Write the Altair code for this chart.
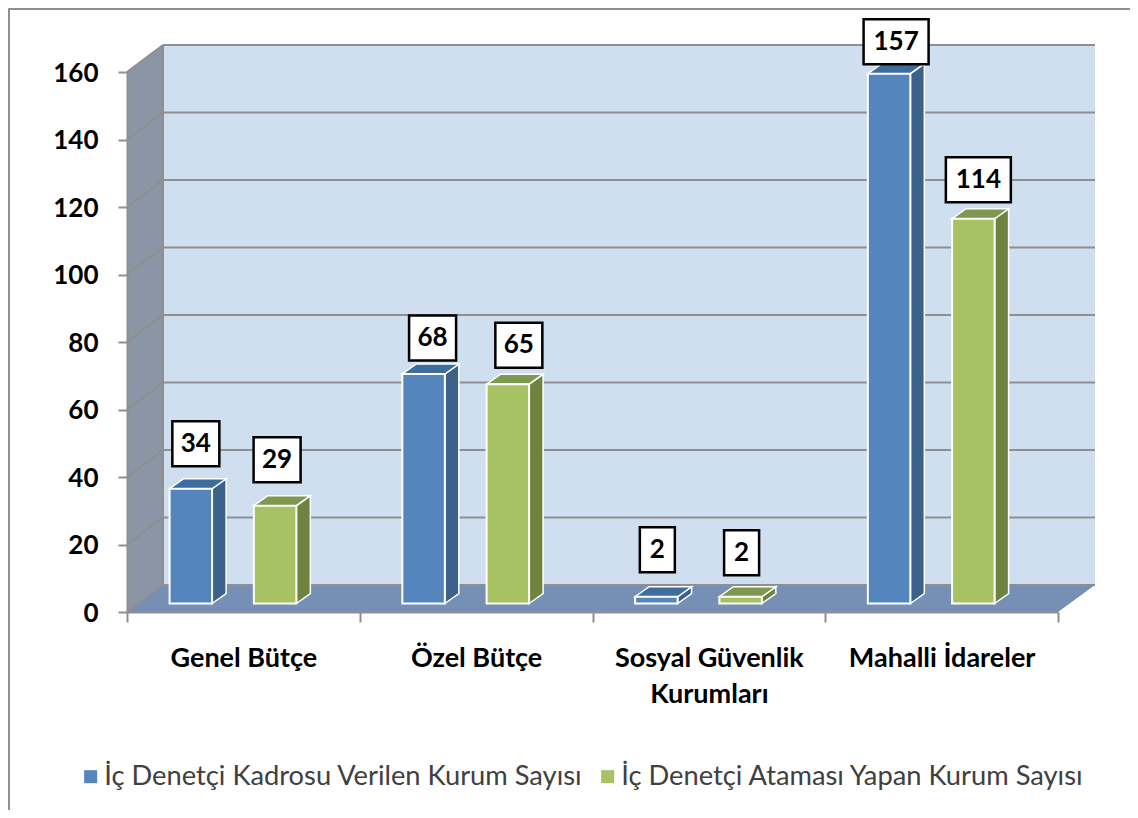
import altair as alt
import pandas as pd

CATEGORIES = ["Genel Bütçe", "Özel Bütçe", "Sosyal Güvenlik|Kurumları", "Mahalli İdareler"]
SERIES = ["İç Denetçi Kadrosu Verilen Kurum Sayısı", "İç Denetçi Ataması Yapan Kurum Sayısı"]
KADRO = [34, 68, 2, 157]
ATAMA = [29, 65, 2, 114]
Y_TICKS = [0, 20, 40, 60, 80, 100, 120, 140, 160]

# label box centres relative to the bar top (pixels)
LABEL_DX = [[5, 9, 1, 7], [2, 11, 1, 5]]
LABEL_DY = [[45, 36, 47, 32], [46, 39, 44, 39]]

FRONT = ["#5585bd", "#a6c263"]
SIDE = ["#3c618a", "#6f8340"]
TOP = ["#3e6c9c", "#7f9850"]
WALL_BACK, WALL_LEFT, FLOOR = "#cfdff0", "#8a96a6", "#7590b4"
GRID = "#8f8f8f"

PW, PH = 931, 540
UX, UY = PW / 4, PH / 160
WALL_DX, WALL_DY = 36 / UX, 27 / UY
BAR_DX, BAR_DY = 14 / UX, 10 / UY
BASE = 8.5 / UY
BAR_W = 42.5 / UX
BAR_X = [0.183, 0.545]
END = 4 + 37 / UX

xs = alt.Scale(domain=[0, 4], nice=False, zero=False)
ys = alt.Scale(domain=[0, 160], nice=False, zero=False)

# axes
x_vals = [i / 2 for i in range(9)]
label_expr = "".join(
    "datum.value==%s?%s:" % (i + 0.5, "[" + ",".join("'%s'" % p for p in c.split("|")) + "]")
    for i, c in enumerate(CATEGORIES)
) + "''"
axis_x = alt.Axis(
    values=x_vals, title=None, grid=False, domainColor=GRID, domainWidth=2, tickColor=GRID, tickWidth=2, tickSize=10,
    tickOpacity=alt.condition("datum.value % 1 === 0", alt.value(1), alt.value(0)),
    labelExpr=label_expr, labelFont="Lato", labelFontSize=27, labelFontWeight="bold", labelColor="black",
    labelPadding=23, labelAngle=0, labelAlign="center", labelBaseline="top", labelLineHeight=36,
    labelOverlap=False, labelBound=False, labelFlush=False, labelLimit=500, zindex=1,
)
axis_y = alt.Axis(
    values=Y_TICKS, title=None, grid=False, domainColor=GRID, domainWidth=2, tickColor=GRID, tickWidth=2, tickSize=9,
    labelFont="Lato", labelFontSize=26, labelFontWeight="bold", labelColor="black", labelPadding=20, zindex=1,
    labelOffset=1,
)
X = alt.X("x:Q", scale=xs, axis=axis_x)
Y = alt.Y("y:Q", scale=ys, axis=axis_y)


def poly(rows, color, detail="a"):
    return [dict(x=x, y=y, y2=y2, fill=color, id=detail) for x, y, y2 in rows]


def area(rows, **kw):
    return alt.Chart(pd.DataFrame(rows)).mark_area(**kw).encode(
        x=X, y=Y, y2="y2:Q", fill=alt.Fill("fill:N", scale=None), detail="id:N"
    )


# walls and floor
back = area(poly([(WALL_DX, 160 + WALL_DY, WALL_DY), (END, 160 + WALL_DY, WALL_DY)], WALL_BACK))
left = area(poly([(0, 160, 0), (WALL_DX, 160 + WALL_DY, WALL_DY)], WALL_LEFT))
floor = area(poly([(0, 0, 0), (WALL_DX, WALL_DY, 0), (4, WALL_DY, 0), (END, WALL_DY, WALL_DY)], FLOOR))

# gridlines, drawn on the back wall and on the left wall
hgrid = alt.Chart(pd.DataFrame([dict(x=WALL_DX, x2=END, y=v + WALL_DY) for v in Y_TICKS])).mark_rule(
    color=GRID, strokeWidth=2
).encode(x=X, x2="x2:Q", y=Y)
sgrid_rows = []
for v in Y_TICKS:
    sgrid_rows += [dict(x=0, y=v, id=v), dict(x=WALL_DX, y=v + WALL_DY, id=v)]
sgrid = alt.Chart(pd.DataFrame(sgrid_rows)).mark_line(color=GRID, strokeWidth=2).encode(x=X, y=Y, detail="id:N")
vedge = alt.Chart(pd.DataFrame([dict(x=WALL_DX, y=WALL_DY, y2=160 + WALL_DY)])).mark_rule(
    color=GRID, strokeWidth=2
).encode(x=X, y=Y, y2="y2:Q")

# bars
side_rows, top_rows, front_rows, box_rows = [], [], [], []
for s, values in enumerate([KADRO, ATAMA]):
    for c, v in enumerate(values):
        x0 = c + BAR_X[s]
        x1 = x0 + BAR_W
        top = BASE + v
        key = f"{s}-{c}"
        side_rows += poly([(x1, BASE, top), (x1 + BAR_DX, BASE + BAR_DY, top + BAR_DY)], SIDE[s], key)
        top_rows += poly(
            [(x0, top, top), (x0 + BAR_DX, top, top + BAR_DY), (x1, top, top + BAR_DY),
             (x1 + BAR_DX, top + BAR_DY, top + BAR_DY)], TOP[s], key)
        front_rows.append(dict(x=x0, x2=x1, y=BASE, y2=top, series=SERIES[s]))
        txt = str(v)
        bw = {1: 35, 2: 47, 3: 65}[len(txt)] / UX
        bh = 45 / UY
        cx = (x0 + x1) / 2 + LABEL_DX[s][c] / UX
        cy = top + LABEL_DY[s][c] / UY
        box_rows.append(dict(x=cx - bw / 2, x2=cx + bw / 2, y=cy - bh / 2, y2=cy + bh / 2, cx=cx, cy=cy, t=txt))

sides = area(side_rows, stroke="white", strokeWidth=1.5)
tops = area(top_rows, stroke="white", strokeWidth=1.5)
fronts = alt.Chart(pd.DataFrame(front_rows)).mark_rect(stroke="white", strokeWidth=2).encode(
    x=X, x2="x2:Q", y=Y, y2="y2:Q",
    color=alt.Color(
        "series:N",
        scale=alt.Scale(domain=SERIES, range=FRONT),
        legend=alt.Legend(
            title=None, orient="none", legendX=-50, legendY=691, direction="horizontal", columns=2,
            symbolType="square", symbolSize=169, symbolStrokeWidth=0, symbolOpacity=1,
            labelFont="Lato", labelFontSize=27.3, labelColor="#404040", labelLimit=700,
            columnPadding=11, labelOffset=0,
        ),
    ),
)

boxes_df = pd.DataFrame(box_rows)
boxes = alt.Chart(boxes_df).mark_rect(fill="white", stroke="black", strokeWidth=2.5).encode(
    x=X, x2="x2:Q", y=Y, y2="y2:Q"
)
box_text = alt.Chart(boxes_df).mark_text(
    font="Lato", fontSize=26, fontWeight="bold", color="black", baseline="middle", align="center"
).encode(x=alt.X("cx:Q", scale=xs, axis=axis_x), y=alt.Y("cy:Q", scale=ys, axis=axis_y), text="t:N")

# chart frame (top and left edges)
FX0, FY0 = -118.5 / UX, 63.5 / UY
frame_top = alt.Chart(pd.DataFrame([dict(x=FX0, x2=1003 / UX, y=FY0 + 160)])).mark_rule(
    color=GRID, strokeWidth=3
).encode(x=X, x2="x2:Q", y=Y)
frame_left = alt.Chart(pd.DataFrame([dict(x=FX0, y=FY0 + 160, y2=-198 / UY)])).mark_rule(
    color=GRID, strokeWidth=3
).encode(x=X, y=Y, y2="y2:Q")

chart = alt.layer(
    back, left, floor, hgrid, vedge, sgrid, sides, tops, fronts, boxes, box_text, frame_top, frame_left
).properties(
    width=PW, height=PH,
    padding={"left": 119, "top": 64, "right": 72, "bottom": 198},
    autosize=alt.AutoSizeParams(type="none"),
    background="white",
).configure_view(stroke=None)

chart.save("out.html", embed_options={"renderer": "svg", "actions": False})
